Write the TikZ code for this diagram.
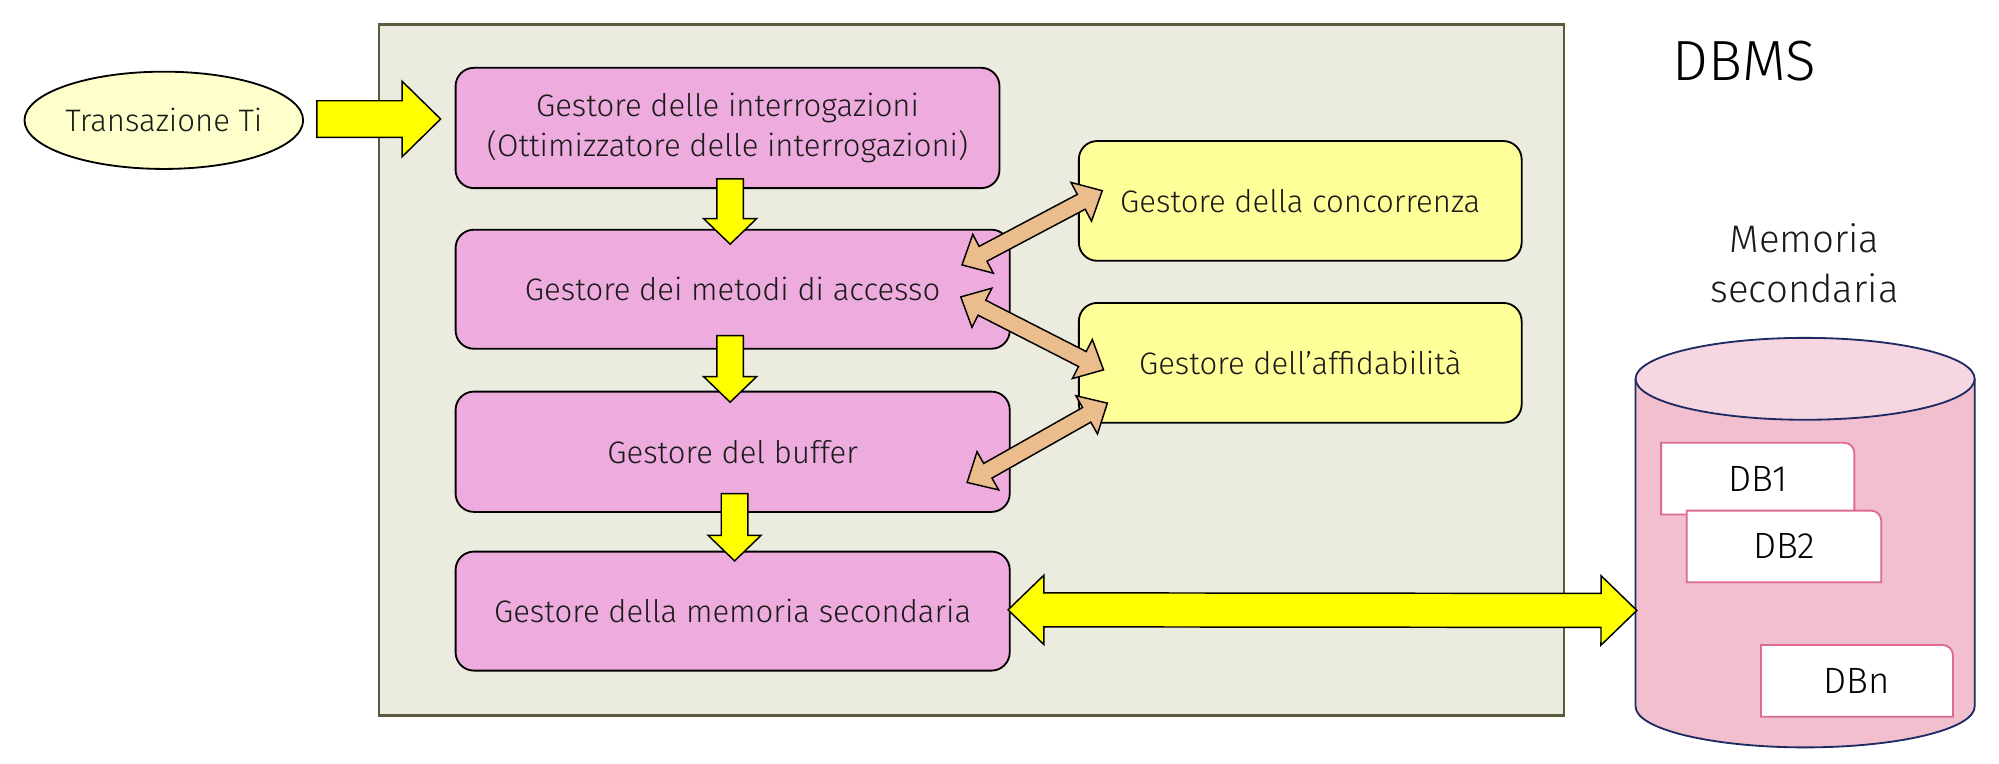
\documentclass[tikz,border=0pt]{standalone}
\usepackage{fontspec}
\setmainfont{Fira Sans Light}
\usetikzlibrary{calc,shapes.geometric}

\definecolor{panelfill}{HTML}{ECEBE0}
\definecolor{panelline}{HTML}{5C5A3C}
\definecolor{pinkbox}{HTML}{EDACDD}
\definecolor{ylwbox}{HTML}{FFFF99}
\definecolor{ellfill}{HTML}{FFFFCC}
\definecolor{arrowy}{HTML}{FFFF00}
\definecolor{tanarrow}{HTML}{EBBC8C}
\definecolor{cylbody}{HTML}{F2BFCF}
\definecolor{cyltop}{HTML}{F6D6E1}
\definecolor{cylline}{HTML}{1E2A62}
\definecolor{dbline}{HTML}{DD6A92}
\definecolor{txt}{HTML}{1A1A1A}

\newcommand\boxfont{\fontsize{17}{21.7}\selectfont}

% double-headed fat arrow: style, A, B, shaft half width, head half width, head length
\newcommand\dblfat[6]{%
  \coordinate (hA) at ($(#2)!#6!(#3)$);
  \coordinate (hB) at ($(#3)!#6!(#2)$);
  \draw[#1] (#2) -- ($(hA)!#5!90:(#3)$) -- ($(hA)!#4!90:(#3)$)
    -- ($(hB)!#4!-90:(#2)$) -- ($(hB)!#5!-90:(#2)$) -- (#3)
    -- ($(hB)!#5!90:(#2)$) -- ($(hB)!#4!90:(#2)$)
    -- ($(hA)!#4!-90:(#3)$) -- ($(hA)!#5!-90:(#3)$) -- cycle;
}
% single-headed fat arrow: style, tail, tip, shaft half width, head half width, head length
\newcommand\sglfat[6]{%
  \coordinate (hT) at ($(#3)!#6!(#2)$);
  \draw[#1] ($(#2)!#4!90:(#3)$) -- ($(hT)!#4!-90:(#2)$) -- ($(hT)!#5!-90:(#2)$)
    -- (#3) -- ($(hT)!#5!90:(#2)$) -- ($(hT)!#4!90:(#2)$)
    -- ($(#2)!#4!-90:(#3)$) -- cycle;
}

\begin{document}
\begin{tikzpicture}[x=0.7pt,y=-0.7pt,
  pinkstep/.style={draw=black, line width=1pt, fill=pinkbox, rounded corners=10pt,
    inner sep=0pt, minimum width=303.1pt, minimum height=65.1pt, align=center,
    font=\boxfont, text=txt},
  ylwstep/.style={pinkstep, fill=ylwbox, minimum width=242.2pt, minimum height=65.5pt},
  yarrow/.style={draw=black, line width=0.8pt, fill=arrowy, line join=miter},
  tarrow/.style={draw=black, line width=0.8pt, fill=tanarrow, line join=miter},
  dbbox/.style={draw=dbline, line width=1pt, fill=white},
  dblabel/.style={font=\fontsize{20}{24}\selectfont, text=black, inner sep=0pt}
]
\useasboundingbox (0,0) rectangle (1562,596.2);

% DBMS panel
\node[draw=panelline, line width=1.4pt, fill=panelfill, inner sep=0pt,
  minimum width=648.2pt, minimum height=378pt, anchor=north west] (panel) at (295,18) {};

% transaction
\node[ellipse, draw=black, line width=1pt, fill=ellfill, inner sep=0pt,
  minimum width=147pt, minimum height=53.2pt, font=\boxfont, text=txt] (tr) at (128,94) {Transazione Ti};

% pink managers
\node[pinkstep, minimum width=297.5pt, minimum height=65.8pt] (g1) at (568.5,100)
  {Gestore delle interrogazioni\\(Ottimizzatore delle interrogazioni)};
\node[pinkstep] (g2) at (572.5,226) {Gestore dei metodi di accesso};
\node[pinkstep, minimum height=65.8pt] (g3) at (572.5,353) {Gestore del buffer};
\node[pinkstep] (g4) at (572.5,477.5) {Gestore della memoria secondaria};

% yellow managers
\node[ylwstep] (c1) at (1016,157) {Gestore della concorrenza};
\node[ylwstep] (a1) at (1016,283.5) {Gestore dell'affidabilità};

% titles
\node[font=\fontsize{31}{36}\selectfont, text=black, inner sep=0pt] (title) at (1363,48) {DBMS};
\node[font=\fontsize{21}{27.3}\selectfont, text=txt, align=center, inner sep=0pt] (memlabel) at (1410,206)
  {Memoria\\secondaria};

% cylinder (secondary storage)
\fill[cylbody] (1278,296) -- (1278,552) arc[start angle=180, end angle=0, x radius=132.5, y radius=32] -- (1543,296) -- cycle;
\draw[cylline, line width=1pt] (1278,296) -- (1278,552) arc[start angle=180, end angle=0, x radius=132.5, y radius=32] -- (1543,296);
\draw[cylline, line width=1pt, fill=cyltop] (1410.5,296) ellipse[x radius=132.5, y radius=32];
\coordinate (cylL) at (1279,477);

% database boxes
\draw[dbbox] (1298,402) -- (1298,346) -- (1441,346) arc[start angle=-90, end angle=0, radius=8] -- (1449,402) -- cycle;
\node[dblabel] (db1) at (1373.5,374) {DB1};
\draw[dbbox] (1318,455) -- (1318,399) -- (1462,399) arc[start angle=-90, end angle=0, radius=8] -- (1470,455) -- cycle;
\node[dblabel] (db2) at (1394,427) {DB2};
\draw[dbbox] (1376,560) -- (1376,504) -- (1518,504) arc[start angle=-90, end angle=0, radius=8] -- (1526,560) -- cycle;
\node[dblabel] (dbn) at (1451,532) {DBn};

% yellow arrows
\coordinate (t0) at ($(tr.east)+(10,-1)$);
\coordinate (t1) at ($(g1.west)+(-11,-7)$);
\sglfat{yarrow}{t0}{t1}{10pt}{20.6pt}{21pt}

\coordinate (d1a) at ($(g1.south)+(2,-8)$);
\coordinate (d1b) at ($(g2.north)+(-2,12)$);
\sglfat{yarrow}{d1a}{d1b}{7.3pt}{14.5pt}{14pt}
\coordinate (d2a) at ($(g2.south)+(-2,-11)$);
\coordinate (d2b) at ($(g3.north)+(-2,9)$);
\sglfat{yarrow}{d2a}{d2b}{7.3pt}{14.5pt}{14pt}
\coordinate (d3a) at ($(g3.south)+(1.5,-15)$);
\coordinate (d3b) at ($(g4.north)+(1.5,8)$);
\sglfat{yarrow}{d3a}{d3b}{7.3pt}{14.5pt}{14pt}

\coordinate (m0) at ($(g4.east)+(-2,-1)$);
\dblfat{yarrow}{m0}{cylL}{9.3pt}{19pt}{19.6pt}

% tan arrows
\coordinate (aL) at ($(g2.east)+(-38,-19)$);
\coordinate (aR) at ($(c1.west)+(19,-8)$);
\dblfat{tarrow}{aL}{aR}{4.6pt}{12pt}{13pt}
\coordinate (bL) at ($(g2.east)+(-39,6)$);
\coordinate (bR) at ($(a1.west)+(20,5.5)$);
\dblfat{tarrow}{bL}{bR}{4.6pt}{12pt}{13pt}
\coordinate (cL) at ($(g3.east)+(-34,24)$);
\coordinate (cR) at ($(a1.west)+(23,31.5)$);
\dblfat{tarrow}{cL}{cR}{4.6pt}{12pt}{13pt}

\end{tikzpicture}
\end{document}
